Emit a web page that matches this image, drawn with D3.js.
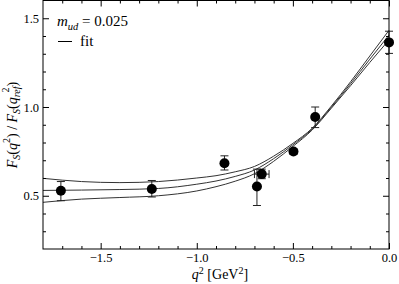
<!DOCTYPE html>
<html>
<head>
<meta charset="utf-8">
<script src="https://cdn.jsdelivr.net/npm/d3@7"></script>
<style>
  body { margin: 0; background: #fff; }
  svg { display: block; }
</style>
</head>
<body>
<div id="chart"></div>
<script>
// data
const q2 = [-1.707, -1.234, -0.856, -0.687, -0.662, -0.497, -0.384, 0.0];
const ratio = [0.528, 0.538, 0.683, 0.552, 0.622, 0.749, 0.944, 1.364];
const errLo = [0.056, 0.045, 0.038, 0.107, 0.026, 0.016, 0.060, 0.062];
const errHi = [0.052, 0.048, 0.042, 0.098, 0.028, 0.016, 0.056, 0.063];
const xErr = [0, 0, 0, 0, 0.038, 0, 0, 0];

const fitQ2 = [-1.8, -1.6, -1.4, -1.2, -1.0, -0.9, -0.8, -0.7, -0.6, -0.5, -0.4, -0.3, -0.2, -0.1, 0.0];
const fitUpper = [0.598, 0.580, 0.574, 0.580, 0.600, 0.613, 0.635, 0.665, 0.723, 0.795, 0.880, 1.005, 1.142, 1.287, 1.432];
const fitCenter = [0.530, 0.532, 0.535, 0.541, 0.565, 0.583, 0.609, 0.645, 0.709, 0.787, 0.875, 0.999, 1.131, 1.269, 1.405];
const fitLower = [0.463, 0.481, 0.490, 0.500, 0.527, 0.551, 0.582, 0.624, 0.694, 0.778, 0.870, 0.993, 1.120, 1.251, 1.378];

const xTicks = [-1.5, -1.0, -0.5, 0.0];
const yTicks = [0.5, 1.0, 1.5];

const width = 399;
const height = 284;
const margin = { left: 43, right: 10, top: 0.5, bottom: 35 };
const serif = "Liberation Serif";

const x = d3.scaleLinear().domain([-1.8, 0.0]).range([margin.left, width - margin.right]);
const y = d3.scaleLinear().domain([0.2, 1.6]).range([height - margin.bottom, margin.top]);

const svg = d3.select("#chart").append("svg")
  .attr("width", width)
  .attr("height", height);

// fit band: three curves
const line = d3.line()
  .x((d, i) => x(fitQ2[i]))
  .y(d => y(d))
  .curve(d3.curveMonotoneX);

[fitUpper, fitCenter, fitLower].forEach(function (s) {
  svg.append("path")
    .attr("d", line(s))
    .attr("fill", "none")
    .attr("stroke", "#333")
    .attr("stroke-width", 1);
});

// error bars
const cap = 4;
const pts = q2.map((d, i) => ({ x: d, y: ratio[i], lo: errLo[i], hi: errHi[i], xe: xErr[i] }));
const eb = svg.append("g").attr("stroke", "#222").attr("stroke-width", 1);
pts.forEach(function (d) {
  const cx = x(d.x);
  eb.append("line").attr("x1", cx).attr("x2", cx).attr("y1", y(d.y - d.lo)).attr("y2", y(d.y + d.hi));
  eb.append("line").attr("x1", cx - cap).attr("x2", cx + cap).attr("y1", y(d.y - d.lo)).attr("y2", y(d.y - d.lo));
  eb.append("line").attr("x1", cx - cap).attr("x2", cx + cap).attr("y1", y(d.y + d.hi)).attr("y2", y(d.y + d.hi));
  if (d.xe > 0) {
    const cy = y(d.y);
    eb.append("line").attr("x1", x(d.x - d.xe)).attr("x2", x(d.x + d.xe)).attr("y1", cy).attr("y2", cy);
    eb.append("line").attr("x1", x(d.x - d.xe)).attr("x2", x(d.x - d.xe)).attr("y1", cy - cap).attr("y2", cy + cap);
    eb.append("line").attr("x1", x(d.x + d.xe)).attr("x2", x(d.x + d.xe)).attr("y1", cy - cap).attr("y2", cy + cap);
  }
});

svg.selectAll("circle.pt")
  .data(pts)
  .enter().append("circle")
  .attr("class", "pt")
  .attr("cx", d => x(d.x))
  .attr("cy", d => y(d.y))
  .attr("r", 5)
  .attr("fill", "#000");

// axes with inward ticks on all four sides
const x0 = margin.left, x1 = width - margin.right;
const y0 = height - margin.bottom, y1 = margin.top;

function addAxis(axis, tx, ty) {
  const g = svg.append("g").attr("transform", `translate(${tx},${ty})`).call(axis);
  g.select(".domain").remove();
  g.selectAll(".tick line").attr("stroke", "#000");
  return g;
}

const xMinor = d3.range(-17, 0).map(d => d / 10).filter(d => !xTicks.some(t => Math.abs(t - d) < 1e-9));
const yMinor = d3.range(3, 16).map(d => d / 10).filter(d => !yTicks.some(t => Math.abs(t - d) < 1e-9));

// bottom
addAxis(d3.axisBottom(x).tickValues(xTicks).tickFormat(d3.format(".1f")).tickSize(-6).tickPadding(4), 0, y0)
  .selectAll("text").style("font-size", "12.5px");
addAxis(d3.axisBottom(x).tickValues(xMinor).tickFormat("").tickSize(-3), 0, y0);
// top
addAxis(d3.axisTop(x).tickValues(xTicks).tickFormat("").tickSize(-6), 0, y1);
addAxis(d3.axisTop(x).tickValues(xMinor).tickFormat("").tickSize(-3), 0, y1);
// left
addAxis(d3.axisLeft(y).tickValues(yTicks).tickFormat(d3.format(".1f")).tickSize(-6).tickPadding(4), x0, 0)
  .selectAll("text").style("font-size", "12.5px");
addAxis(d3.axisLeft(y).tickValues(yMinor).tickFormat("").tickSize(-3), x0, 0);
// right
addAxis(d3.axisRight(y).tickValues(yTicks).tickFormat("").tickSize(-6), x1, 0);
addAxis(d3.axisRight(y).tickValues(yMinor).tickFormat("").tickSize(-3), x1, 0);

// frame
svg.append("rect")
  .attr("x", x0).attr("y", y1)
  .attr("width", x1 - x0).attr("height", y0 - y1)
  .attr("fill", "none").attr("stroke", "#000").attr("stroke-width", 1);

// x label
const xl = svg.append("text")
  .attr("x", 220).attr("y", 279)
  .attr("text-anchor", "middle")
  .style("font-size", "14px");
xl.append("tspan").attr("font-style", "italic").text("q");
xl.append("tspan").attr("dy", -5.5).style("font-size", "10px").text("2");
xl.append("tspan").attr("dy", 5.5).text(" [GeV");
xl.append("tspan").attr("dy", -5.5).style("font-size", "10px").text("2");
xl.append("tspan").attr("dy", 5.5).text("]");

// y label
const yl = svg.append("text")
  .attr("transform", "translate(17,125) rotate(-90)")
  .attr("text-anchor", "middle")
  .style("font-size", "14px");
yl.append("tspan").attr("font-style", "italic").text("F");
yl.append("tspan").attr("dy", 3).style("font-size", "10px").attr("font-style", "italic").text("S");
yl.append("tspan").attr("dy", -3).text("(");
yl.append("tspan").attr("font-style", "italic").text("q");
yl.append("tspan").attr("dy", -7).style("font-size", "10px").text("2");
yl.append("tspan").attr("dy", 7).text(") / ");
yl.append("tspan").attr("font-style", "italic").text("F");
yl.append("tspan").attr("dy", 3).style("font-size", "10px").attr("font-style", "italic").text("S");
yl.append("tspan").attr("dy", -3).text("(");
yl.append("tspan").attr("font-style", "italic").text("q");
yl.append("tspan").attr("dy", 3).style("font-size", "10px").attr("font-style", "italic").text("ref");
yl.append("tspan").attr("dx", -6).attr("dy", -11).style("font-size", "10px").text("2");
yl.append("tspan").attr("dx", 1).attr("dy", 8).text(")");

// legend
const lg = svg.append("text").attr("x", 57).attr("y", 26).style("font-size", "15px");
lg.append("tspan").attr("font-style", "italic").text("m");
lg.append("tspan").attr("dy", 4).style("font-size", "10.5px").attr("font-style", "italic").text("ud");
lg.append("tspan").attr("dy", -4).text(" = 0.025");

svg.append("line")
  .attr("x1", 58).attr("x2", 72).attr("y1", 41.5).attr("y2", 41.5)
  .attr("stroke", "#000").attr("stroke-width", 1);
svg.append("text").attr("x", 80).attr("y", 46).style("font-size", "15px").text("fit");

// serif everywhere, set on each text so the axis defaults do not win
svg.selectAll("text").style("font-family", serif).attr("fill", "#000");
</script>
</body>
</html>
